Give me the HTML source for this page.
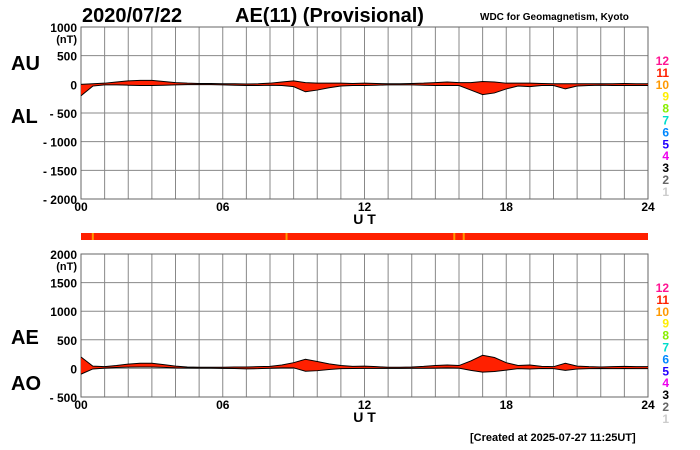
<!DOCTYPE html>
<html><head><meta charset="utf-8"><style>
body{margin:0;background:#fff;}
svg{display:block;font-family:"Liberation Sans",Arial,sans-serif;}
</style></head><body>
<svg id="c" width="700" height="450" viewBox="0 0 700 450">
<text x="82" y="22" font-size="20" font-weight="bold">2020/07/22</text>
<text x="235" y="22" font-size="20" font-weight="bold">AE(11) (Provisional)</text>
<text x="480" y="20" font-size="10" font-weight="bold">WDC for Geomagnetism, Kyoto</text>
<text x="11" y="70" font-size="20" font-weight="bold">AU</text>
<text x="11" y="123" font-size="20" font-weight="bold">AL</text>
<text x="11" y="344" font-size="20" font-weight="bold">AE</text>
<text x="11" y="390" font-size="20" font-weight="bold">AO</text>
<text x="470" y="441" font-size="11" font-weight="bold">[Created at 2025-07-27 11:25UT]</text>
<g id="g"></g>
</svg>
<script>
const hours=[0,0.5,1,1.5,2,2.5,3,3.5,4,4.5,5,5.5,6,6.5,7,7.5,8,8.5,9,9.5,10,10.5,11,11.5,12,12.5,13,13.5,14,14.5,15,15.5,16,16.5,17,17.5,18,18.5,19,19.5,20,20.5,21,21.5,22,22.5,23,23.5,24];
const au=[0,10,20,40,60,70,70,50,30,20,15,15,10,10,5,10,20,40,60,30,20,20,20,15,20,15,10,10,15,20,30,40,30,30,50,40,20,20,20,15,10,10,10,10,10,10,15,10,10];
const al=[-200,-30,-10,-10,-15,-20,-20,-15,-10,-5,-5,-5,-10,-15,-20,-20,-15,-20,-40,-130,-100,-60,-30,-20,-20,-15,-10,-10,-10,-15,-20,-20,-20,-100,-180,-150,-80,-30,-40,-20,-20,-80,-30,-20,-15,-20,-20,-20,-20];
const topTicks=[1000,500,0,-500,-1000,-1500,-2000];
const botTicks=[2000,1500,1000,500,0,-500];
const xTicks=["00","06","12","18","24"];
const legendNums=["12","11","10","9","8","7","6","5","4","3","2","1"];
const legendCols=["#ff1493","#ff2000","#ff9900","#ffee00","#88ee00","#00ddcc","#0088ff","#2200ff","#ee00ee","#000000","#666666","#cccccc"];
const flagHours=[0.5,8.7,15.8,16.2];

const NS="http://www.w3.org/2000/svg";
const g=document.getElementById('g');
function mk(t,a,p){const e=document.createElementNS(NS,t);for(const k in a)e.setAttribute(k,a[k]);(p||g).appendChild(e);return e;}
const X0=81,X1=648;
const xs=h=>X0+(X1-X0)*h/24;
const yTop=v=>27+(1000-v)*(172/3000);
const yBot=v=>254+(2000-v)*(143/2500);

function panel(name,y,ticks,y0,y1,lo,hi){
  for(let h=0;h<=24;h++){const l=mk('line',{x1:xs(h),x2:xs(h),y1:y0,y2:y1,stroke:'#888','stroke-width':1});
    }
  ticks.forEach(v=>{const l=mk('line',{x1:X0,x2:X1,y1:y(v),y2:y(v),stroke:'#888','stroke-width':1});
    
    const t=mk('text',{x:77,y:y(v)+5,'font-size':12,'font-weight':'bold','text-anchor':'end'});
    t.textContent=v<0?('- '+(-v)):String(v);
    });
  const u=mk('text',{x:77,y:y(ticks[0])+16,'font-size':11,'font-weight':'bold','text-anchor':'end'});u.textContent='(nT)';
  
  const r=mk('rect',{x:X0,y:y0,width:X1-X0,height:y1-y0,fill:'none',stroke:'#666'});
  
  xTicks.forEach((s,i)=>{const t=mk('text',{x:xs(i*6),y:y1+12,'font-size':12,'font-weight':'bold','text-anchor':'middle'});t.textContent=s;
    });
  const ut=mk('text',{x:xs(12),y:y1+25,'font-size':14,'font-weight':'bold','text-anchor':'middle'});ut.textContent='U T';
  
  let d='M'+hours.map((h,i)=>xs(h)+','+y(hi[i])).join('L')+'L'+hours.slice().reverse().map((h,j)=>xs(h)+','+y(lo[hours.length-1-j])).join('L')+'Z';
  const f=mk('path',{d:d,fill:'#ff2000',stroke:'none'});
  
  [hi,lo].forEach((arr,k)=>{const p=mk('path',{d:'M'+hours.map((h,i)=>xs(h)+','+y(arr[i])).join('L'),fill:'none',stroke:'#000','stroke-width':1});
    });
  legendNums.forEach((s,i)=>{const t=mk('text',{x:669,y:y0+38+i*11.9,'font-size':12,'font-weight':'bold','text-anchor':'end',fill:legendCols[i]});t.textContent=s;
    });
}
panel('top-panel',yTop,topTicks,27,199,al,au);
const ae=au.map((v,i)=>v-al[i]);
const ao=au.map((v,i)=>(v+al[i])/2);
panel('bottom-panel',yBot,botTicks,254,397,ao,ae);
const b=mk('rect',{x:X0,y:233,width:X1-X0,height:7,fill:'#ff2000'});

flagHours.forEach(h=>{const r=mk('rect',{x:xs(h)-1,y:233,width:2,height:7,fill:'#ff9900'});
  });
</script>
</body></html>
